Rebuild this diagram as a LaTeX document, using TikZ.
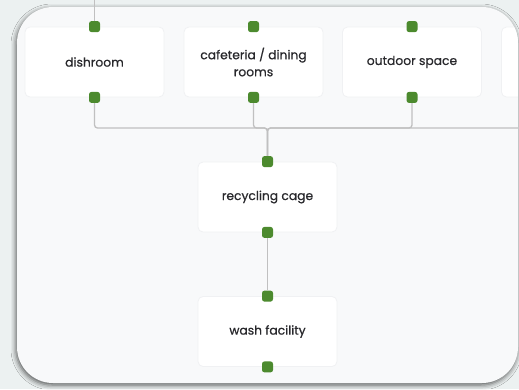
\documentclass[tikz,border=0pt]{standalone}
\usepackage{fontspec}
\setmainfont{Poppins}
\newfontfamily\roomfont{Poppins}[FakeBold=0.6]
\usetikzlibrary{positioning,shadows.blur}

\definecolor{pagebg}{RGB}{236,241,241}
\definecolor{panelbg}{RGB}{248,249,250}
\definecolor{roomedge}{RGB}{240,241,243}
\definecolor{portgreen}{RGB}{76,138,46}
\definecolor{wiregrey}{RGB}{192,192,192}
\definecolor{textgrey}{RGB}{40,40,44}

\begin{document}
\begin{tikzpicture}[%
    x=1pt, y=-1pt,
    node distance=159pt,
    on grid,
    room/.style={fill=white, draw=roomedge, line width=0.8pt,
      rounded corners=5pt,
      minimum width=139pt, minimum height=70pt,
      align=center, text=textgrey,
      font=\roomfont\fontsize{12.3}{17}\selectfont},
    port/.style={fill=portgreen, rounded corners=2.5pt,
      minimum size=11pt, inner sep=0pt},
    wire/.style={draw=wiregrey, line width=1.3pt, rounded corners=3pt}
    ]
    \fill[pagebg, use as bounding box] (0,0) rectangle (519,389);
    \fill[panelbg, rounded corners=36pt,
      blur shadow={shadow xshift=-1pt, shadow yshift=-2pt,
        shadow blur radius=5pt, shadow opacity=65}]
      (17,7) rectangle (518,383);

    \begin{scope}
    \clip[rounded corners=36pt] (17,7) rectangle (518,383);

    \node[room] (dish) at (94.5,62) {dishroom};
    \node[room] (cafe) [right=of dish] {cafeteria / dining\\rooms};
    \node[room] (yard) [right=158.5pt of cafe] {outdoor space};
    \node[room] (more) [right=of yard] {};
    \node[room] (cage) [below right=135pt and 14pt of cafe] {recycling cage};
    \node[room] (wash) [below=134.5pt of cage] {wash facility};

    % ports
    \node[port] (dish-in)  at (dish.north) {};
    \node[port] (dish-out) at (dish.south) {};
    \node[port] (cafe-in)  at (cafe.north) {};
    \node[port] (cafe-out) at (cafe.south) {};
    \node[port] (yard-in)  at (yard.north) {};
    \node[port] (yard-out) at (yard.south) {};
    \node[port] (more-out) at (more.south) {};
    \node[port] (cage-in)  at (cage.north) {};
    \node[port] (cage-out) at (cage.south) {};
    \node[port] (wash-in)  at (wash.north) {};
    \node[port] (wash-out) at (wash.south) {};

    \coordinate[below=66pt of dish] (bus);

    \draw[wire] (dish-out.south) |- (cage-in |- bus) -- (cage-in.north);
    \draw[wire] (cafe-out.south) |- (cage-in |- bus) -- (cage-in.north);
    \draw[wire] (yard-out.south) |- (cage-in |- bus) -- (cage-in.north);
    \draw[wire] (more-out.south) |- (cage-in |- bus) -- (cage-in.north);
    \draw[wire] (cage-out.south) -- (wash-in.north);
    \end{scope}

    \coordinate[above=62pt of dish] (feed);
    \draw[wire] (feed) -- (dish-in.north);
\end{tikzpicture}
\end{document}
